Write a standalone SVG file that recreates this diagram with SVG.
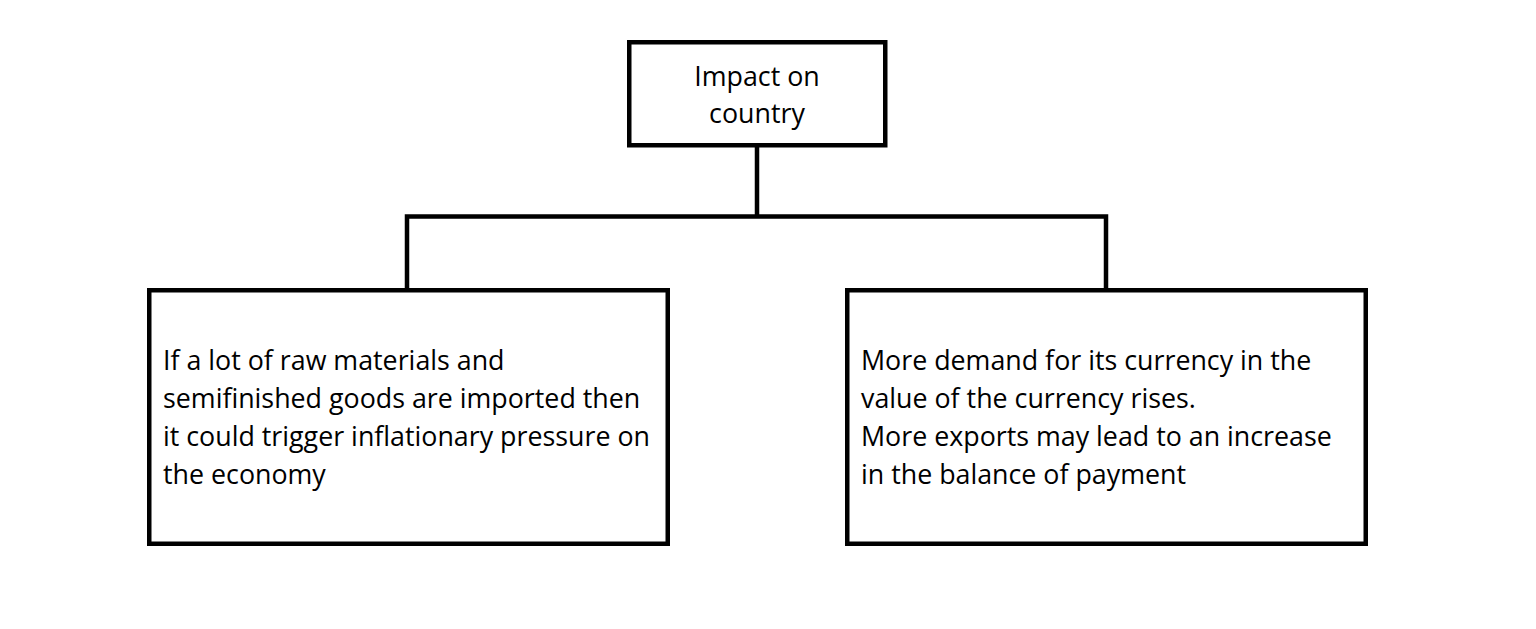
<svg xmlns="http://www.w3.org/2000/svg" width="1536" height="629" viewBox="0 0 1536 629">
<style>
.box{fill:#fff;stroke:#000;stroke-width:4.5}
.conn{fill:none;stroke:#000;stroke-width:4.5}
.t{font-family:"Open Sans",Lato,"Liberation Sans",sans-serif;font-size:26.8px;fill:#000}
.c{text-anchor:middle}
</style>
<rect width="1536" height="629" fill="#fff"/>
<g id="connectors">
<path class="conn" d="M757 145 V216.5 M407 288 V216.5 H1106 V288"/>
</g>
<g id="top">
<rect class="box" x="629.25" y="42.25" width="256" height="103"/>
<text class="t c" x="757" y="86">Impact on</text>
<text class="t c" x="757" y="123">country</text>
</g>
<g id="left">
<rect class="box" x="149.25" y="290.25" width="518.5" height="253.5"/>
<text class="t" x="163" y="370">If a lot of raw materials and</text>
<text class="t" x="163" y="408">semifinished goods are imported then</text>
<text class="t" x="163" y="446">it could trigger inflationary pressure on</text>
<text class="t" x="163" y="484">the economy</text>
</g>
<g id="right">
<rect class="box" x="847.25" y="290.25" width="518.5" height="253.5"/>
<text class="t" x="861" y="370">More demand for its currency in the</text>
<text class="t" x="861" y="408">value of the currency rises.</text>
<text class="t" x="861" y="446">More exports may lead to an increase</text>
<text class="t" x="861" y="484">in the balance of payment</text>
</g>
</svg>
